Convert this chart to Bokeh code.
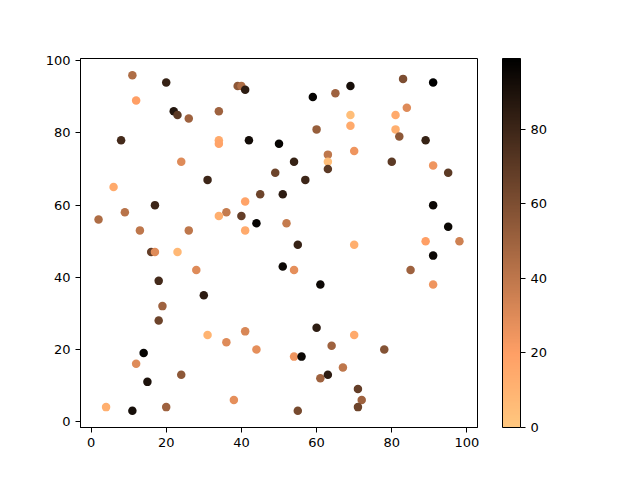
from bokeh.plotting import figure
from bokeh.models import (LinearColorMapper, ColorBar, FixedTicker,
                          ColumnDataSource)
from bokeh.embed import file_html
from bokeh.resources import INLINE

# point positions and colour values
xs = [2, 9, 6, 8, 11, 12, 20, 22, 23, 26,
      17, 13, 24, 26, 31, 34, 34, 34, 39, 40,
      41, 42, 50, 49, 45, 41, 36, 34, 40, 44,
      41, 59, 65, 69, 83, 91, 69, 69, 81, 84,
      81, 82, 89, 60, 63, 63, 63, 70, 80, 91,
      95, 54, 57, 51, 52, 91, 95, 16, 17, 23,
      28, 51, 18, 30, 19, 18, 31, 36, 41, 44,
      14, 12, 24, 15, 4, 11, 20, 38, 55, 70,
      89, 98, 91, 54, 85, 91, 61, 60, 70, 64,
      78, 54, 56, 67, 61, 63, 71, 72, 71, 55]
ys = [56, 58, 65, 78, 96, 89, 94, 86, 85, 84,
      60, 53, 72, 53, 67, 86, 78, 77, 93, 93,
      92, 78, 77, 69, 63, 61, 58, 57, 57, 55,
      53, 90, 91, 93, 95, 94, 85, 82, 85, 87,
      81, 79, 78, 81, 74, 72, 70, 75, 72, 71,
      69, 72, 67, 63, 55, 60, 54, 47, 47, 47,
      42, 43, 39, 35, 32, 28, 24, 22, 25, 20,
      19, 16, 13, 11, 4, 3, 4, 6, 49, 49,
      50, 50, 46, 42, 42, 38, 38, 26, 24, 21,
      20, 18, 18, 15, 12, 13, 9, 6, 4, 3]
cs = [45, 42, 15, 78, 45, 20, 82, 88, 70, 50,
      80, 40, 30, 40, 80, 50, 15, 18, 55, 45,
      85, 93, 97, 65, 65, 18, 38, 12, 68, 97,
      15, 97, 50, 92, 60, 99, 5, 15, 15, 30,
      12, 55, 82, 52, 40, 5, 70, 25, 70, 25,
      70, 82, 80, 85, 38, 95, 95, 68, 30, 8,
      30, 95, 78, 85, 50, 65, 10, 30, 32, 28,
      97, 30, 55, 90, 12, 92, 50, 28, 82, 12,
      20, 35, 95, 28, 50, 25, 95, 85, 15, 50,
      58, 25, 95, 40, 50, 85, 68, 50, 65, 62]

cbar_ticks = [0, 20, 40, 60, 80]


def copper_r(n=256):
    out = []
    for i in range(n):
        t = 1 - i / (n - 1)
        r = min(1.0, 1.25 * t)
        g = 0.7812 * t
        b = 0.4975 * t
        out.append('#%02x%02x%02x' % (round(r * 255), round(g * 255),
                                      round(b * 255)))
    return out


mapper = LinearColorMapper(palette=copper_r(), low=0, high=99)
src = ColumnDataSource(dict(x=xs, y=ys, c=cs))

p = figure(width=624, height=464, x_range=(-2.8, 102.8),
           y_range=(-1.65, 100.65), output_backend="svg",
           toolbar_location=None, min_border_left=80, min_border_top=58,
           min_border_bottom=37, min_border_right=147)

p.scatter('x', 'y', source=src, size=8.5, line_color=None,
          fill_color={'field': 'c', 'transform': mapper})

p.grid.visible = False
p.outline_line_color = 'black'
p.outline_line_alpha = 1
p.outline_line_width = 1
p.background_fill_color = 'white'
p.border_fill_color = 'white'

for ax in (p.xaxis, p.yaxis):
    ax.ticker = FixedTicker(ticks=[0, 20, 40, 60, 80, 100])
    ax.major_tick_in = 0
    ax.major_tick_out = 5
    ax.minor_tick_line_color = None
    ax.axis_line_color = 'black'
    ax.major_tick_line_color = 'black'
    ax.major_label_text_font = 'DejaVu Sans'
    ax.major_label_text_font_size = '13px'
    ax.major_label_text_color = 'black'

cb = ColorBar(color_mapper=mapper, ticker=FixedTicker(ticks=cbar_ticks),
              width=18, height=369, location=(25, 0), padding=0,
              margin=0, bar_line_color='black', border_line_color=None,
              background_fill_color=None, major_tick_in=0,
              major_tick_out=5, major_tick_line_color='black',
              minor_tick_line_color=None,
              major_label_text_font='DejaVu Sans',
              major_label_text_font_size='13px',
              major_label_text_color='black')
p.add_layout(cb, 'right')

open("out.html", "w").write(file_html(p, INLINE))
